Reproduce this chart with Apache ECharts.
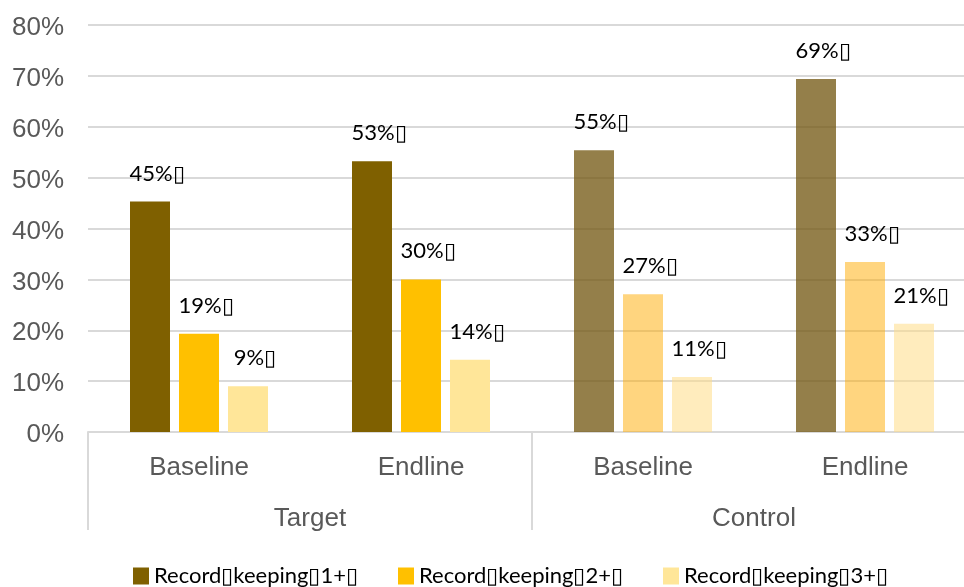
<!DOCTYPE html>
<html>
<head>
<meta charset="utf-8">
<script src="https://cdn.jsdelivr.net/npm/echarts@6/dist/echarts.min.js"></script>
<style>
html,body{margin:0;padding:0;background:#fff;}
#chart{width:964px;height:587px;}
</style>
</head>
<body>
<div id="chart"></div>
<script>
// ---- data ----
const categories = ['Baseline', 'Endline', 'Baseline', 'Endline'];
const groups = ['Target', 'Control'];
const seriesNames = ['Record\u25AFkeeping\u25AF1+\u25AF', 'Record\u25AFkeeping\u25AF2+\u25AF', 'Record\u25AFkeeping\u25AF3+\u25AF'];
const rk1 = [45.3, 53.2, 55.4, 69.4];
const rk2 = [19.3, 30.0, 27.1, 33.4];
const rk3 = [9.0, 14.2, 10.8, 21.3];
const yMin = 0, yMax = 80, yStep = 10;

// ---- styles ----
const baseColors = ['#7F6000', '#FFC000', '#FFE699'];
const controlColors = ['rgba(112,84,14,0.75)', 'rgba(255,172,0,0.5)', 'rgba(255,220,135,0.55)'];
const controlIdx = [2, 3];
const labelFont = 'Lato, "Noto Sans", sans-serif';
const axisFont = '"Liberation Sans", Arial, sans-serif';

function buildData(vals, si) {
  return vals.map((v, i) => controlIdx.includes(i)
    ? { value: v, itemStyle: { color: controlColors[si] } }
    : { value: v });
}

const allVals = [rk1, rk2, rk3];
const series = allVals.map((vals, si) => ({
  name: seriesNames[si],
  type: 'bar',
  xAxisIndex: 0,
  barWidth: 40,
  barGap: '22.5%',
  itemStyle: { color: baseColors[si] },
  label: {
    show: true,
    position: 'top',
    distance: 17,
    offset: [7, 0],
    color: '#000',
    fontFamily: labelFont,
    fontSize: 22,
    formatter: p => Math.round(p.value) + '%\u25AF'
  },
  data: buildData(vals, si)
}));

const legendLefts = [133, 398, 663];
const legends = seriesNames.map((n, i) => ({
  data: [n],
  left: legendLefts[i],
  top: 565,
  padding: 0,
  itemWidth: 16,
  itemHeight: 17,
  itemGap: 6,
  icon: 'rect',
  textStyle: { fontFamily: labelFont, fontSize: 22, color: '#000' }
}));

const chart = echarts.init(document.getElementById('chart'));
chart.setOption({
  animation: false,
  backgroundColor: '#fff',
  grid: { left: 88, width: 888, top: 25, bottom: 155, containLabel: false, outerBoundsMode: 'none' },
  legend: legends,
  xAxis: [
    {
      type: 'category',
      data: categories,
      position: 'bottom',
      offset: 0,
      boundaryGap: true,
      axisLine: { show: true, lineStyle: { color: '#D9D9D9', width: 2 } },
      axisTick: { show: false },
      axisLabel: { color: '#595959', fontFamily: axisFont, fontSize: 26, margin: 23 }
    },
    {
      type: 'category',
      data: groups,
      position: 'bottom',
      offset: 0,
      boundaryGap: true,
      axisLine: { show: false },
      axisTick: { show: true, length: 98, lineStyle: { color: '#D9D9D9', width: 2 } },
      axisLabel: { color: '#595959', fontFamily: axisFont, fontSize: 26, margin: 74 }
    }
  ],
  yAxis: {
    type: 'value',
    min: yMin,
    max: yMax,
    interval: yStep,
    axisLine: { show: false },
    axisTick: { show: false },
    splitLine: { lineStyle: { color: '#D9D9D9', width: 2 } },
    axisLabel: { formatter: '{value}%', color: '#595959', fontFamily: axisFont, fontSize: 26, margin: 24, verticalAlign: 'top', lineHeight: 6 }
  },
  series: series
});
</script>
</body>
</html>
